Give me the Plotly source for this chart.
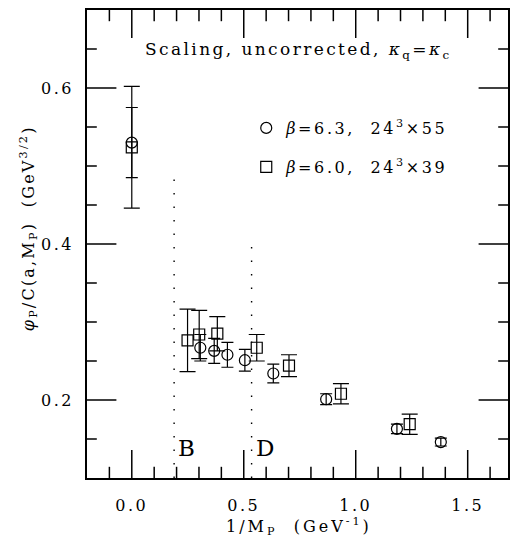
import plotly.graph_objects as go

# beta=6.3 (circles)
x_c = [0.0, 0.306, 0.368, 0.427, 0.505, 0.632, 0.868, 1.184, 1.380]
y_c = [0.530, 0.267, 0.263, 0.258, 0.251, 0.234, 0.201, 0.163, 0.146]
e_c = [0.045, 0.017, 0.016, 0.016, 0.014, 0.012, 0.007, 0.006, 0.005]

# beta=6.0 (squares)
x_s = [0.0, 0.249, 0.301, 0.382, 0.558, 0.702, 0.934, 1.241]
y_s = [0.524, 0.2765, 0.284, 0.285, 0.267, 0.244, 0.208, 0.169]
e_s = [0.078, 0.040, 0.031, 0.022, 0.017, 0.014, 0.013, 0.013]

# heavy-meson markers (1/M_B, 1/M_D)
x_lines = [0.189, 0.535]
y_line_tops = [0.49, 0.40]
line_labels = ["B", "D"]

x_range = [-0.2, 1.68]
y_range = [0.1, 0.7]
x_ticks = [0.0, 0.5, 1.0, 1.5]
x_ticklabels = ["0.0", "0.5", "1.0", "1.5"]
x_minor_ticks = [-0.1, 0.1, 0.2, 0.3, 0.4, 0.6, 0.7, 0.8, 0.9, 1.1, 1.2, 1.3, 1.4, 1.6]
y_ticks = [0.2, 0.4, 0.6]
y_ticklabels = ["0.2", "0.4", "0.6"]
y_minor_ticks = [0.15, 0.25, 0.3, 0.35, 0.45, 0.5, 0.55, 0.65]

FONT = "DejaVu Serif"

def spaced(s, px):
    return "<span style='letter-spacing:%spx'>%s</span>" % (px, s)

def px_x(p):
    return (p - 87) / 423

def px_y(p):
    return (478 - p) / 468

fig = go.Figure()

# inward tick marks on all four frame edges (markers clipped to the plot area)
def tick_trace(xs, ys, symbol, size):
    return go.Scatter(x=xs, y=ys, mode="markers", cliponaxis=True,
                      marker=dict(symbol=symbol, size=size, color="black",
                                  line=dict(color="black", width=1.5)),
                      showlegend=False, hoverinfo="skip")

for yedge in y_range:
    fig.add_trace(tick_trace(x_ticks, [yedge] * len(x_ticks), "line-ns", 40))
    fig.add_trace(tick_trace(x_minor_ticks, [yedge] * len(x_minor_ticks), "line-ns", 16))
for xedge in x_range:
    fig.add_trace(tick_trace([xedge] * len(y_ticks), y_ticks, "line-ew", 42))
    fig.add_trace(tick_trace([xedge] * len(y_minor_ticks), y_minor_ticks, "line-ew", 14))

for xv, yt in zip(x_lines, y_line_tops):
    fig.add_trace(go.Scatter(x=[xv, xv], y=[y_range[0], yt], mode="lines",
                             line=dict(color="black", width=1.4, dash="1.5px,12px"),
                             showlegend=False, hoverinfo="skip"))

fig.add_trace(go.Scatter(
    x=x_c, y=y_c, mode="markers", name=spaced("<i>β</i>=6.3,  24<sup>3</sup>×55", 2.6),
    marker=dict(symbol="circle-open", size=11, color="black", line=dict(width=1.2)),
    error_y=dict(type="data", array=e_c, color="black", thickness=1.2, width=6),
    legend="legend"))

fig.add_trace(go.Scatter(
    x=x_s, y=y_s, mode="markers", name=spaced("<i>β</i>=6.0,  24<sup>3</sup>×39", 2.6),
    marker=dict(symbol="square-open", size=11, color="black", line=dict(width=1.2)),
    error_y=dict(type="data", array=e_s, color="black", thickness=1.2, width=8),
    legend="legend2"))

fig.update_xaxes(range=x_range, tickvals=x_ticks, tickmode="array",
                 ticktext=[spaced(t, 2.5) for t in x_ticklabels],
                 showline=True, linecolor="black", linewidth=1.5, mirror=True,
                 ticks="", ticklabelstandoff=12,
                 showgrid=False, zeroline=False,
                 tickfont=dict(family=FONT, size=16, color="black"))
fig.update_yaxes(range=y_range, tickvals=y_ticks, tickmode="array",
                 ticktext=[spaced(t, 2.5) for t in y_ticklabels],
                 showline=True, linecolor="black", linewidth=1.5, mirror=True,
                 ticks="", ticklabelstandoff=8,
                 showgrid=False, zeroline=False,
                 tickfont=dict(family=FONT, size=16, color="black"))

annotations = [
    dict(x=px_x(300), y=px_y(50), xanchor="center", yanchor="middle",
         text=spaced("Scaling, uncorrected, <i>κ</i><sub>q</sub>=<i>κ</i><sub>c</sub>", 2.4),
         font=dict(family=FONT, size=17, color="black")),
    dict(x=px_x(28), y=px_y(228), xanchor="center", yanchor="middle", textangle=-90,
         text=spaced("<i>φ</i><sub>P</sub>/C(a,M<sub>P</sub>)  (GeV<sup>3/2</sup>)", 2.2),
         font=dict(family=FONT, size=16, color="black")),
    dict(x=px_x(300), y=px_y(526), xanchor="center", yanchor="middle",
         text=spaced("1/M<sub>P</sub>  (GeV<sup>-1</sup>)", 3),
         font=dict(family=FONT, size=16, color="black")),
]
for a in annotations:
    a.update(xref="paper", yref="paper", showarrow=False)

for xv, lab in zip(x_lines, line_labels):
    annotations.append(dict(x=xv, y=0.138, xref="x", yref="y", xanchor="left", xshift=2,
                            showarrow=False, text=lab,
                            font=dict(family=FONT, size=23, color="black")))

legend_common = dict(xanchor="left", yanchor="middle",
                     font=dict(family=FONT, size=16, color="black"),
                     bgcolor="rgba(0,0,0,0)")

fig.update_layout(
    width=512, height=540, autosize=False,
    margin=dict(l=87, r=2, t=10, b=62),
    paper_bgcolor="white", plot_bgcolor="white",
    annotations=annotations,
    showlegend=True,
    legend=dict(x=px_x(247), y=px_y(128), **legend_common),
    legend2=dict(x=px_x(247), y=px_y(167), **legend_common),
)

fig.write_html("out.html")
